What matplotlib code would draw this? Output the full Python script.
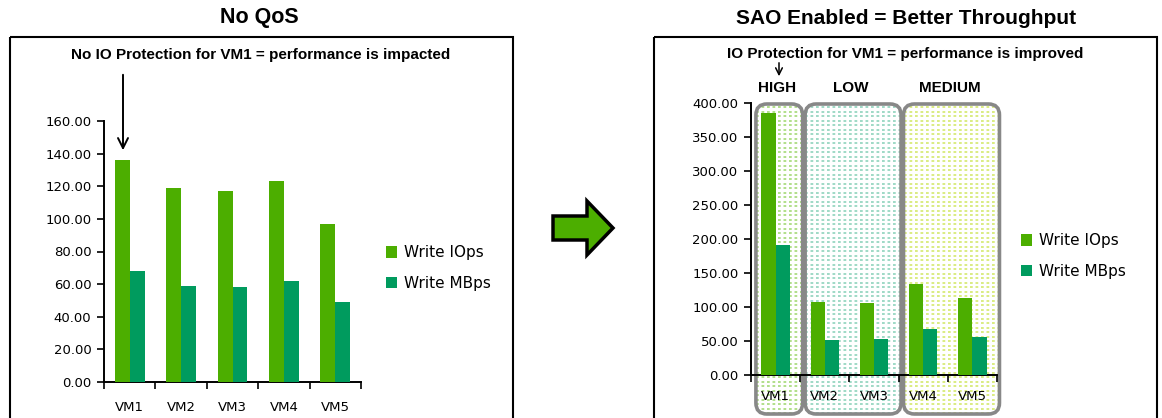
import matplotlib
matplotlib.use("Agg")
import numpy as np
import matplotlib.pyplot as plt
from matplotlib.patches import FancyBboxPatch, Rectangle, FancyArrow

W, H = 1162, 418

vms = ["VM1", "VM2", "VM3", "VM4", "VM5"]

# No QoS
noqos_iops = [136, 119, 117, 123, 97]
noqos_mbps = [68, 59, 58, 62, 49]

# SAO enabled
sao_iops = [385, 107, 106, 134, 113]
sao_mbps = [191, 52, 53, 68, 56]

groups = ["HIGH", "LOW", "MEDIUM"]
group_span = [(0, 0), (1, 2), (3, 4)]
group_col = ["#7cc83a", "#5dbf9e", "#c2df2c"]

C_IOPS = "#4cae00"
C_MBPS = "#009b5e"

plt.rcParams["font.family"] = ["DejaVu Sans"]
TITLE_FONT = ["Liberation Sans", "DejaVu Sans"]


def px_axes(left, right, top, bottom):
    # pixel box (from top-left) -> figure fraction
    return [left / W, (H - bottom) / H, (right - left) / W, (bottom - top) / H]


fig = plt.figure(figsize=(W / 100, H / 100), dpi=100)

# background overlay in pixel coordinates
bg = fig.add_axes([0, 0, 1, 1], zorder=0)
bg.set_xlim(0, W)
bg.set_ylim(H, 0)
bg.axis("off")

# panel frames
bg.add_patch(Rectangle((10, 37), 503, 400, fill=False, ec="black", lw=1.5))
bg.add_patch(Rectangle((654, 37), 503, 400, fill=False, ec="black", lw=1.5))

bg.text(259, 18, "No QoS", ha="center", va="center", fontsize=15.5,
        fontweight="bold", family=TITLE_FONT)
bg.text(906, 18, "SAO Enabled = Better Throughput", ha="center", va="center",
        fontsize=15, fontweight="bold", family=TITLE_FONT)

bg.text(261, 55, "No IO Protection for VM1 = performance is impacted",
        ha="center", va="center", fontsize=11, fontweight="bold", family=TITLE_FONT)
bg.text(905, 54, "IO Protection for VM1 = performance is improved",
        ha="center", va="center", fontsize=11, fontweight="bold", family=TITLE_FONT)

# big arrow between panels
bg.add_patch(FancyArrow(553, 228, 60, 0, width=24, head_width=54, head_length=26,
                        length_includes_head=True, fc=C_IOPS, ec="black", lw=2.5))


def bar_chart(ax, iops, mbps, ymax, step, label_pad):
    x = np.arange(len(vms))
    w = 0.29
    ax.bar(x - w / 2, iops, w, color=C_IOPS, label="Write IOps", zorder=3)
    ax.bar(x + w / 2, mbps, w, color=C_MBPS, label="Write MBps", zorder=3)
    ax.set_xlim(-0.5, len(vms) - 0.5)
    ax.set_ylim(0, ymax)
    ax.set_yticks(np.arange(0, ymax + 1, step))
    ax.set_yticklabels(["%.2f" % v for v in np.arange(0, ymax + 1, step)])
    ax.set_xticks(np.arange(-0.5, len(vms)), minor=False)
    ax.set_xticklabels([])
    ax.set_xticks(x, minor=True)
    ax.set_xticklabels(vms, minor=True)
    ax.tick_params(axis="x", which="minor", length=0, pad=label_pad, labelsize=9.5)
    ax.tick_params(axis="x", which="major", length=5, width=1.2, direction="out")
    ax.tick_params(axis="y", length=5, width=1.2, labelsize=9.5, pad=4)
    for s in ["top", "right"]:
        ax.spines[s].set_visible(False)
    for s in ["left", "bottom"]:
        ax.spines[s].set_linewidth(1.4)
    ax.patch.set_alpha(0)


leg_kw = dict(frameon=False, fontsize=11, handlelength=0.75, handleheight=0.75,
              handletextpad=0.4, labelspacing=1.0, borderaxespad=0, borderpad=0)

# left chart
axl = fig.add_axes(px_axes(104, 361, 121, 382), zorder=2)
bar_chart(axl, noqos_iops, noqos_mbps, 160, 20, 14)
axl.legend(loc="center left", bbox_to_anchor=(386 / W, (H - 268) / H),
           bbox_transform=fig.transFigure, **leg_kw)
bg.annotate("", xy=(123, 153), xytext=(123, 72),
            arrowprops=dict(arrowstyle="->", lw=1.4, color="black",
                            mutation_scale=18))

# right chart
axr = fig.add_axes(px_axes(751, 997, 103, 375), zorder=2)
bar_chart(axr, sao_iops, sao_mbps, 400, 50, 11)
axr.legend(loc="center left", bbox_to_anchor=(1021 / W, (H - 256) / H),
           bbox_transform=fig.transFigure, **leg_kw)

# priority boxes with dashed fill, in pixel coordinates
fig.canvas.draw()
to_px = axr.transData
for name, (a, b), col in zip(groups, group_span, group_col):
    x0 = to_px.transform((a - 0.4, 0))[0]
    x1 = to_px.transform((b + 0.55, 0))[0]
    top = 104
    bot = 414
    box = FancyBboxPatch((x0, top), x1 - x0, bot - top,
                         boxstyle="round,pad=0,rounding_size=11",
                         fc="white", ec="none", zorder=1)
    bg.add_patch(box)
    for yy in np.arange(top + 3, bot, 4.5):
        ln, = bg.plot([x0, x1], [yy, yy], color=col, lw=1.1,
                      dashes=(1.8, 1.8), zorder=1.5, alpha=0.75)
        ln.set_clip_path(box)
    bg.add_patch(FancyBboxPatch((x0, top), x1 - x0, bot - top,
                                boxstyle="round,pad=0,rounding_size=11",
                                fill=False, ec="#888888", lw=2.6, zorder=3))
    bg.text((x0 + x1) / 2 - 2, 88, name, ha="center", va="center",
            fontsize=11, fontweight="bold", family=TITLE_FONT)

bg.annotate("", xy=(779, 79), xytext=(779, 60),
            arrowprops=dict(arrowstyle="->", lw=1.1, color="black",
                            mutation_scale=12))

fig.savefig("out.png", dpi=100)
